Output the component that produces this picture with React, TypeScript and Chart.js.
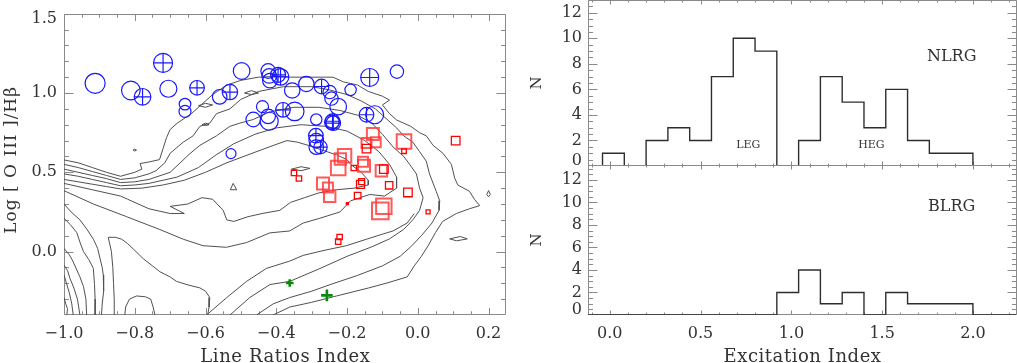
import React, { useEffect, useRef } from 'react';
import { Chart, registerables } from 'chart.js';
Chart.register(...registerables);

const FONT = '"DejaVu Serif", "Liberation Serif", serif';
const TEXT = '#333333';
const FRAME = '#8a8a8a';

// ---------------- Left panel: Line Ratios Index vs Log [O III]/Hbeta ----------------
const lriTicks = [-1.0, -0.8, -0.6, -0.4, -0.2, 0.0, 0.2];
const o3Ticks = [0.0, 0.5, 1.0, 1.5];

// blue circles (HEG): x, y, symbol radius (px), plus inside (1/0)
const blueX = [-0.912, -0.811, -0.778, -0.72, -0.705, -0.658, -0.658, -0.624, -0.56, -0.531, -0.498, -0.423, -0.42, -0.418, -0.388, -0.395, -0.355, -0.315, -0.272, -0.249, -0.244, -0.225, -0.19, -0.136, -0.059, -0.439, -0.465, -0.423, -0.42, -0.381, -0.348, -0.287, -0.241, -0.239, -0.243, -0.145, -0.122, -0.288, -0.287, -0.287, -0.275, -0.528];
const blueY = [1.061, 1.016, 0.976, 1.19, 1.027, 0.93, 0.884, 1.033, 0.976, 1.006, 1.139, 1.139, 1.108, 1.078, 1.102, 1.115, 1.016, 1.057, 1.041, 1.006, 0.965, 0.914, 1.02, 1.098, 1.135, 0.914, 0.833, 0.853, 0.822, 0.894, 0.884, 0.833, 0.822, 0.81, 0.815, 0.863, 0.863, 0.731, 0.70, 0.659, 0.659, 0.618];
const blueR = [10, 9.3, 8.3, 9.5, 8.5, 5.8, 6, 7.3, 7.3, 7.7, 8.3, 7.3, 7.3, 7.3, 8.3, 7.5, 7.7, 7.7, 7.3, 6.7, 6.7, 8.3, 5.7, 9, 6.7, 6, 7.3, 7.3, 9, 7.3, 9.3, 5.7, 7.3, 7.3, 7.3, 7.3, 9, 7.3, 7.3, 7.3, 6.7, 5];
const bluePlus = [0, 0, 1, 1, 0, 0, 0, 1, 0, 1, 0, 0, 0, 0, 1, 1, 0, 0, 1, 0, 0, 0, 0, 1, 0, 0, 0, 0, 0, 1, 0, 0, 1, 1, 0, 1, 0, 1, 0, 0, 1, 0];

// red squares (LEG): x, y, half side (px)
const redX = [-0.127, -0.119, -0.145, -0.145, -0.039, -0.039, 0.107, -0.207, -0.219, -0.225, -0.181, -0.155, -0.152, -0.103, -0.096, -0.35, -0.336, -0.268, -0.254, -0.249, -0.162, -0.159, -0.081, -0.028, -0.17, -0.199, -0.106, -0.096, 0.029, -0.221, -0.225];
const redY = [0.741, 0.69, 0.684, 0.649, 0.694, 0.633, 0.70, 0.604, 0.584, 0.527, 0.527, 0.567, 0.541, 0.51, 0.52, 0.496, 0.461, 0.429, 0.404, 0.349, 0.424, 0.441, 0.418, 0.373, 0.353, 0.302, 0.257, 0.286, 0.251, 0.092, 0.063];
const redS = [6, 5, 5, 4.3, 7.3, 2.3, 4.3, 6.7, 5.7, 7.3, 2.7, 5, 6, 5.7, 4.3, 2.7, 2.7, 6, 5, 5.7, 4, 3, 3.7, 4.3, 3.3, 1, 8.3, 7.7, 2, 2.7, 2.7];

// green crosses
const greenX = [-0.362, -0.257];
const greenY = [-0.198, -0.276];
const greenS = [3.8, 5.8];

// density contours of the comparison sample (x, y pairs)
const W1 = [[-1.0, 0.578], [-0.96, 0.56], [-0.92, 0.53], [-0.88, 0.50], [-0.84, 0.475], [-0.80, 0.50], [-0.78, 0.52], [-0.785, 0.555], [-0.76, 0.565], [-0.73, 0.58], [-0.72, 0.65], [-0.71, 0.72], [-0.70, 0.77], [-0.68, 0.81], [-0.64, 0.87], [-0.61, 0.93], [-0.58, 0.99], [-0.54, 1.05], [-0.50, 1.08], [-0.45, 1.10], [-0.40, 1.105], [-0.36, 1.10], [-0.31, 1.10], [-0.27, 1.10], [-0.24, 1.10], [-0.21, 1.07], [-0.17, 1.05], [-0.14, 1.01], [-0.10, 0.98], [-0.08, 0.955], [-0.10, 0.925], [-0.08, 0.87], [-0.06, 0.83], [-0.02, 0.79], [0.005, 0.75], [0.024, 0.73], [0.043, 0.67], [0.071, 0.62], [0.095, 0.55], [0.104, 0.465], [0.113, 0.42], [0.146, 0.38], [0.16, 0.33], [0.175, 0.29], [0.146, 0.27], [0.109, 0.24], [0.07, 0.19], [0.05, 0.12], [0.03, 0.04], [0.01, -0.03], [-0.01, -0.09], [-0.03, -0.16], [-0.09, -0.20], [-0.14, -0.23], [-0.23, -0.28], [-0.30, -0.32], [-0.362, -0.35], [-0.409, -0.40]];
const W2 = [[-1.0, 0.55], [-0.96, 0.53], [-0.92, 0.505], [-0.88, 0.48], [-0.84, 0.455], [-0.80, 0.465], [-0.76, 0.49], [-0.74, 0.51], [-0.715, 0.56], [-0.70, 0.62], [-0.663, 0.69], [-0.635, 0.73], [-0.616, 0.79], [-0.588, 0.81], [-0.569, 0.87], [-0.531, 0.90], [-0.50, 0.96], [-0.45, 1.01], [-0.38, 1.04], [-0.30, 1.04], [-0.25, 1.02], [-0.20, 0.99], [-0.16, 0.95], [-0.12, 0.90], [-0.09, 0.84], [-0.06, 0.78], [-0.04, 0.73], [-0.014, 0.69], [0.005, 0.63], [0.024, 0.57], [0.033, 0.49], [0.052, 0.38], [0.062, 0.32], [0.06, 0.26], [0.04, 0.18], [0.01, 0.10], [-0.02, 0.03], [-0.05, -0.03], [-0.10, -0.09], [-0.17, -0.15], [-0.25, -0.21], [-0.30, -0.25], [-0.362, -0.29], [-0.409, -0.33], [-0.456, -0.40]];
const W3 = [[-1.0, 0.52], [-0.96, 0.50], [-0.92, 0.48], [-0.88, 0.46], [-0.84, 0.435], [-0.80, 0.44], [-0.76, 0.455], [-0.70, 0.50], [-0.644, 0.618], [-0.616, 0.67], [-0.569, 0.73], [-0.531, 0.79], [-0.503, 0.81], [-0.465, 0.833], [-0.42, 0.88], [-0.35, 0.91], [-0.28, 0.91], [-0.22, 0.89], [-0.17, 0.86], [-0.13, 0.81], [-0.10, 0.74], [-0.07, 0.66], [-0.04, 0.60], [-0.023, 0.55], [-0.004, 0.49], [0.005, 0.40], [0.015, 0.34], [0.005, 0.26], [-0.014, 0.20], [-0.04, 0.14], [-0.08, 0.08], [-0.13, 0.03], [-0.20, -0.03], [-0.28, -0.11], [-0.362, -0.188], [-0.418, -0.208], [-0.475, -0.29], [-0.531, -0.40]];
const W4 = [[-1.0, 0.49], [-0.96, 0.475], [-0.92, 0.455], [-0.88, 0.435], [-0.84, 0.415], [-0.80, 0.42], [-0.76, 0.43], [-0.68, 0.47], [-0.62, 0.53], [-0.57, 0.61], [-0.52, 0.68], [-0.46, 0.74], [-0.40, 0.78], [-0.33, 0.80], [-0.26, 0.79], [-0.20, 0.76], [-0.15, 0.70], [-0.11, 0.63], [-0.08, 0.55], [-0.06, 0.47], [-0.06, 0.40], [-0.094, 0.35], [-0.136, 0.36], [-0.19, 0.32], [-0.22, 0.25], [-0.277, 0.21], [-0.324, 0.18], [-0.362, 0.13], [-0.418, 0.118], [-0.484, 0.057], [-0.541, 0.027], [-0.607, 0.037], [-0.663, 0.078], [-0.729, 0.139], [-0.823, 0.22], [-0.917, 0.30], [-1.0, 0.384]];
const P5 = [[-1.0, 0.455], [-0.96, 0.44], [-0.92, 0.425], [-0.88, 0.41], [-0.84, 0.395], [-0.78, 0.40], [-0.72, 0.42], [-0.66, 0.45], [-0.60, 0.50], [-0.54, 0.56], [-0.48, 0.61], [-0.42, 0.66], [-0.37, 0.70], [-0.34, 0.69], [-0.31, 0.67], [-0.27, 0.64], [-0.23, 0.61], [-0.20, 0.58], [-0.19, 0.55], [-0.16, 0.50], [-0.14, 0.45], [-0.14, 0.42], [-0.18, 0.40], [-0.23, 0.39], [-0.28, 0.37], [-0.32, 0.34], [-0.36, 0.31], [-0.39, 0.26], [-0.44, 0.24], [-0.48, 0.22], [-0.52, 0.19], [-0.54, 0.20], [-0.55, 0.26], [-0.58, 0.33], [-0.61, 0.34], [-0.65, 0.30], [-0.70, 0.285], [-0.66, 0.24], [-0.70, 0.24], [-0.76, 0.27], [-0.82, 0.33], [-0.84, 0.35], [-0.92, 0.39], [-1.0, 0.43]];
const D4 = [[-0.01, 0.24], [-0.03, 0.18], [-0.07, 0.13], [-0.10, 0.11], [-0.145, 0.078], [-0.202, 0.037], [-0.268, 0.006], [-0.324, -0.024], [-0.362, -0.06], [-0.428, -0.106], [-0.484, -0.188], [-0.54, -0.29], [-0.597, -0.40]];
const U1 = [[-0.856, -0.40], [-0.858, -0.30], [-0.86, -0.20], [-0.862, -0.10], [-0.866, 0.0], [-0.872, 0.06], [-0.875, 0.09], [-0.855, 0.09], [-0.837, 0.078], [-0.82, 0.05], [-0.804, 0.016], [-0.776, -0.045], [-0.75, -0.09], [-0.729, -0.127], [-0.70, -0.16], [-0.682, -0.188], [-0.65, -0.21], [-0.616, -0.229], [-0.60, -0.25], [-0.588, -0.29], [-0.59, -0.35], [-0.594, -0.40]];
const B1 = [[-0.828, -0.40], [-0.826, -0.35], [-0.815, -0.30], [-0.795, -0.28], [-0.77, -0.285], [-0.755, -0.30], [-0.748, -0.35], [-0.743, -0.40]];
const V1 = [[-1.0, 0.30], [-0.98, 0.25], [-0.955, 0.20], [-0.935, 0.14], [-0.917, 0.078], [-0.905, 0.02], [-0.898, -0.045], [-0.892, -0.10], [-0.889, -0.147], [-0.888, -0.25], [-0.892, -0.33], [-0.894, -0.40]];
const V2 = [[-1.0, 0.21], [-0.982, 0.17], [-0.964, 0.12], [-0.955, 0.06], [-0.945, 0.0], [-0.93, -0.05], [-0.917, -0.106], [-0.914, -0.20], [-0.912, -0.30], [-0.912, -0.40]];
const V3 = [[-1.0, 0.02], [-0.985, -0.02], [-0.975, -0.06], [-0.965, -0.11], [-0.955, -0.16], [-0.945, -0.22], [-0.938, -0.30], [-0.936, -0.40]];
const V4 = [[-1.0, -0.086], [-0.99, -0.12], [-0.983, -0.17], [-0.972, -0.23], [-0.962, -0.30], [-0.955, -0.40]];
const V5 = [[-1.0, -0.147], [-0.993, -0.20], [-0.985, -0.26], [-0.978, -0.33], [-0.974, -0.40]];
const V6 = [[-1.0, -0.29], [-0.995, -0.33], [-0.99, -0.36], [-0.992, -0.40]];
const K1 = [[0.195, 0.36], [0.20, 0.385], [0.205, 0.36], [0.20, 0.345], [0.195, 0.36]];
const K2 = [[0.09, 0.08], [0.12, 0.095], [0.14, 0.08], [0.11, 0.068], [0.09, 0.08]];
const K3 = [[-0.357, 0.52], [-0.33, 0.535], [-0.305, 0.525], [-0.33, 0.51], [-0.357, 0.52]];
const K4 = [[-0.53, 0.39], [-0.522, 0.43], [-0.512, 0.39], [-0.53, 0.39]];
const K5 = [[-0.62, 0.92], [-0.60, 0.935], [-0.58, 0.925], [-0.60, 0.91], [-0.62, 0.92]];
const K6 = [[-0.61, 0.80], [-0.60, 0.81], [-0.59, 0.80], [-0.60, 0.795], [-0.61, 0.80]];
const K7 = [[-0.49, 1.0], [-0.47, 1.015], [-0.45, 1.0], [-0.47, 0.99], [-0.49, 1.0]];
const K8 = [[-0.805, 0.64], [-0.80, 0.646], [-0.795, 0.64], [-0.80, 0.634], [-0.805, 0.64]];
const contours = [W1, W2, W3, W4, P5, D4, U1, B1, V1, V2, V3, V4, V5, V6, K1, K2, K3, K4, K5, K6, K7, K8];

// ---------------- Right panels: Excitation Index histograms ----------------
const binStart = [-0.16, -0.04, 0.08, 0.20, 0.32, 0.44, 0.56, 0.68, 0.80, 0.92, 1.04, 1.16, 1.28, 1.40, 1.52, 1.64, 1.76, 1.88, 2.00, 2.12];
const binEnd = 2.24;
const nlrgCounts = [0, 1, 0, 2, 3, 2, 7, 10, 9, 0, 2, 7, 5, 3, 6, 2, 1, 1, 0, 0];
const blrgCounts = [0, 0, 0, 0, 0, 0, 0, 0, 0, 2, 4, 1, 2, 0, 2, 1, 1, 1, 0, 0];
const excTicks = [0.0, 0.5, 1.0, 1.5, 2.0];
const nTicks = [0, 2, 4, 6, 8, 10, 12];

const fmt1 = (v: number) => Number(v).toFixed(1).replace('-', '\u2212');
const fmt0 = (v: number) => String(v);

type Txt = { text: string; x: number; y: number; size: number };
type BoxCfg = {
  xMajor: number; xMinor: number; yMajor: number; yMinor: number;
  xLen: number; yLen: number; yLabels: number[]; fmt: (v: number) => string;
  gap: number; nudge: number; texts?: Txt[];
  xTitle?: string; xTitleY?: number; xTitleSize?: number; xTitleLs?: number;
  yTitle: string; yTitleX: number; yTitleSize: number; yTitleLs: number; yTitleShift: number;
};

function makeBox(cfg: BoxCfg) {
  const marks = (min: number, max: number, step: number) => {
    const out: number[] = [];
    const n0 = Math.ceil(min / step - 1e-6), n1 = Math.floor(max / step + 1e-6);
    for (let n = n0; n <= n1; n++) out.push(n * step);
    return out;
  };
  const isMult = (v: number, s: number) => Math.abs(v / s - Math.round(v / s)) < 1e-6;
  return {
    id: 'idlBox',
    beforeDatasetsDraw(chart: any) {
      const { ctx, chartArea: a } = chart;
      const xs = chart.scales.x, ys = chart.scales.y;
      const L = Math.round(a.left) + 0.5, R = Math.round(a.right) - 0.5;
      const T = Math.round(a.top) + 0.5, B = Math.round(a.bottom) - 0.5;
      ctx.save();
      ctx.strokeStyle = FRAME;
      ctx.lineWidth = 1;
      ctx.beginPath();
      ctx.rect(L, T, R - L, B - T);
      for (const v of marks(xs.min, xs.max, cfg.xMinor)) {
        const len = isMult(v, cfg.xMajor) ? cfg.xLen : cfg.xLen * 0.5;
        const p = Math.round(xs.getPixelForValue(v)) + 0.5;
        if (p < L || p > R) continue;
        ctx.moveTo(p, B); ctx.lineTo(p, B - len);
        ctx.moveTo(p, T); ctx.lineTo(p, T + len);
      }
      for (const v of marks(ys.min, ys.max, cfg.yMinor)) {
        const len = isMult(v, cfg.yMajor) ? cfg.yLen : cfg.yLen * 0.5;
        const p = Math.round(ys.getPixelForValue(v)) + 0.5;
        if (p < T || p > B) continue;
        ctx.moveTo(L, p); ctx.lineTo(L + len, p);
        ctx.moveTo(R, p); ctx.lineTo(R - len, p);
      }
      ctx.stroke();
      ctx.restore();
    },
    afterDraw(chart: any) {
      const { ctx, chartArea: a } = chart;
      const xs = chart.scales.x, ys = chart.scales.y;
      ctx.save();
      ctx.fillStyle = TEXT;
      ctx.font = `16px ${FONT}`;
      ctx.textAlign = 'right';
      ctx.textBaseline = 'middle';
      for (const v of cfg.yLabels) {
        let p = ys.getPixelForValue(v);
        if (p - a.top < 3) p += cfg.nudge;
        else if (a.bottom - p < 3) p -= cfg.nudge;
        ctx.fillText(cfg.fmt(v), a.left - cfg.gap, p);
      }
      ctx.textAlign = 'center';
      for (const t of cfg.texts || []) {
        ctx.font = `${t.size}px ${FONT}`;
        ctx.fillText(t.text, xs.getPixelForValue(t.x), ys.getPixelForValue(t.y));
      }
      // axis titles
      ctx.textBaseline = 'alphabetic';
      if (cfg.xTitle) {
        ctx.font = `${cfg.xTitleSize}px ${FONT}`;
        (ctx as any).letterSpacing = `${cfg.xTitleLs}px`;
        ctx.fillText(cfg.xTitle, (a.left + a.right) / 2 + (cfg.xTitleLs || 0) / 2, cfg.xTitleY);
      }
      ctx.save();
      ctx.translate(cfg.yTitleX, (a.top + a.bottom) / 2 + cfg.yTitleShift);
      ctx.rotate(-Math.PI / 2);
      ctx.font = `${cfg.yTitleSize}px ${FONT}`;
      (ctx as any).letterSpacing = `${cfg.yTitleLs}px`;
      ctx.fillText(cfg.yTitle, cfg.yTitleLs / 2, 0);
      ctx.restore();
      (ctx as any).letterSpacing = '0px';
      ctx.restore();
    },
  };
}

const baseOpts = {
  responsive: false,
  animation: false as const,
  devicePixelRatio: 1,
  events: [] as any[],
  plugins: { legend: { display: false }, tooltip: { enabled: false } },
};

function leftConfig(): any {
  const contourSets = contours.map((c) => ({
    data: c.map(([x, y]) => ({ x, y })),
    showLine: true,
    borderColor: '#505050',
    borderWidth: 1,
    pointRadius: 0,
    fill: false,
    tension: 0,
  }));
  const plusIdx = bluePlus.map((p, i) => (p ? i : -1)).filter((i) => i >= 0);
  return {
    type: 'scatter',
    data: {
      datasets: [
        {
          data: greenX.map((x, i) => ({ x, y: greenY[i] })),
          pointStyle: 'cross',
          pointRadius: greenS,
          pointBorderWidth: 2.6,
          pointBorderColor: '#0b8a0b',
          borderColor: '#0b8a0b',
        },
        {
          data: redX.map((x, i) => ({ x, y: redY[i] })),
          pointStyle: 'rect',
          pointRadius: redS.map((s) => s * Math.SQRT2),
          pointBackgroundColor: (c: any) => (redS[c.dataIndex] < 1.5 ? 'rgb(255,0,0)' : 'rgba(0,0,0,0)'),
          pointBorderColor: (c: any) => (redS[c.dataIndex] >= 5 ? 'rgba(255,60,60,0.85)' : 'rgb(255,0,0)'),
          pointBorderWidth: (c: any) => (redS[c.dataIndex] >= 5 ? 2 : 1.3),
        },
        {
          data: plusIdx.map((i) => ({ x: blueX[i], y: blueY[i] })),
          pointStyle: 'cross',
          pointRadius: plusIdx.map((i) => blueR[i]),
          pointBorderWidth: 1.2,
          pointBorderColor: 'rgb(25,25,255)',
        },
        {
          data: blueX.map((x, i) => ({ x, y: blueY[i] })),
          pointStyle: 'circle',
          pointRadius: blueR,
          pointBorderWidth: 1.2,
          pointBorderColor: 'rgb(25,25,255)',
          pointBackgroundColor: 'rgba(0,0,0,0)',
        },
        ...contourSets,
      ],
    },
    options: {
      ...baseOpts,
      layout: { padding: { left: 0, top: 4, right: 13, bottom: 0 } },
      scales: {
        x: {
          type: 'linear', min: -1.0, max: 0.25,
          grid: { display: false, drawTicks: false }, border: { display: false },
          ticks: { font: { family: FONT, size: 16 }, color: TEXT, padding: 9, autoSkip: false, maxRotation: 0, callback: (v: any) => fmt1(v) },
          afterBuildTicks: (s: any) => { s.ticks = lriTicks.map((v) => ({ value: v })); },
          afterFit: (s: any) => { s.height = 48; s.paddingLeft = 0; s.paddingRight = 0; },
          title: { display: false },
        },
        y: {
          type: 'linear', min: -0.4, max: 1.5,
          grid: { display: false, drawTicks: false }, border: { display: false },
          ticks: { display: false },
          afterFit: (s: any) => { s.width = 64; s.paddingTop = 0; s.paddingBottom = 0; },
          title: { display: false },
        },
      },
    },
    plugins: [makeBox({
      xMajor: 0.2, xMinor: 0.05, yMajor: 0.5, yMinor: 0.1, xLen: 6.5, yLen: 9, yLabels: o3Ticks, fmt: fmt1, gap: 7, nudge: 5,
      xTitle: 'Line Ratios Index', xTitleY: 362, xTitleSize: 18, xTitleLs: 0.6,
      yTitle: 'Log [ O III ]/H\u03B2', yTitleX: 15.5, yTitleSize: 17, yTitleLs: 1, yTitleShift: -4,
    })],
  };
}

function histConfig(counts: number[], bottom: boolean, yMax: number, texts: Txt[]): any {
  const pts = binStart.map((x, i) => ({ x, y: counts[i] })).concat([{ x: binEnd, y: 0 }]);
  return {
    type: 'scatter',
    data: {
      datasets: [
        { data: pts, showLine: true, stepped: true, borderColor: '#2e2e2e', borderWidth: 1.4, pointRadius: 0, fill: false },
      ],
    },
    options: {
      ...baseOpts,
      layout: { padding: bottom ? { left: 0, top: 15, right: 0.5, bottom: 0 } : { left: 0, top: 0, right: 0.5, bottom: 9 } },
      scales: {
        x: {
          type: 'linear', min: -0.12, max: 2.24,
          grid: { display: false, drawTicks: false }, border: { display: false },
          ticks: { display: bottom, font: { family: FONT, size: 16 }, color: TEXT, padding: 9, autoSkip: false, maxRotation: 0, callback: (v: any) => fmt1(v) },
          afterBuildTicks: (s: any) => { s.ticks = excTicks.map((v) => ({ value: v })); },
          afterFit: (s: any) => { s.height = bottom ? 48 : 0; s.paddingLeft = 0; s.paddingRight = 0; },
          title: { display: false },
        },
        y: {
          type: 'linear', min: 0, max: yMax,
          grid: { display: false, drawTicks: false }, border: { display: false },
          ticks: { display: false },
          afterFit: (s: any) => { s.width = 68; s.paddingTop = 0; s.paddingBottom = 0; },
          title: { display: false },
        },
      },
    },
    plugins: [makeBox({
      xMajor: 0.5, xMinor: 0.1, yMajor: 2, yMinor: 0.5, xLen: 4, yLen: 9, yLabels: nTicks, fmt: fmt0, gap: 6, nudge: 5.5, texts,
      xTitle: bottom ? 'Excitation Index' : undefined, xTitleY: 212, xTitleSize: 18, xTitleLs: 0.55,
      yTitle: 'N', yTitleX: 20.5, yTitleSize: 15, yTitleLs: 0, yTitleShift: 0,
    })],
  };
}

export default function App() {
  const leftRef = useRef<HTMLCanvasElement>(null);
  const topRef = useRef<HTMLCanvasElement>(null);
  const botRef = useRef<HTMLCanvasElement>(null);

  useEffect(() => {
    const charts = [
      new Chart(leftRef.current as HTMLCanvasElement, leftConfig()),
      new Chart(topRef.current as HTMLCanvasElement, histConfig(nlrgCounts, false, 13, [
        { text: 'NLRG', x: 1.883, y: 8.56, size: 16 },
        { text: 'LEG', x: 0.763, y: 1.64, size: 11 },
        { text: 'HEG', x: 1.441, y: 1.64, size: 11 },
      ])),
      new Chart(botRef.current as HTMLCanvasElement, histConfig(blrgCounts, true, 13.33, [
        { text: 'BLRG', x: 1.883, y: 9.63, size: 16 },
      ])),
    ];
    return () => charts.forEach((c) => c.destroy());
  }, []);

  return (
    <div style={{ position: 'fixed', left: 0, top: 0, width: 1017, height: 363, background: '#ffffff', overflow: 'hidden' }}>
      <canvas ref={leftRef} width={520} height={363} style={{ position: 'absolute', left: 0, top: 0, width: 520, height: 363 }} />
      <canvas ref={topRef} width={497} height={175} style={{ position: 'absolute', left: 520, top: 0, width: 497, height: 175 }} />
      <canvas ref={botRef} width={497} height={213} style={{ position: 'absolute', left: 520, top: 150, width: 497, height: 213 }} />
    </div>
  );
}
